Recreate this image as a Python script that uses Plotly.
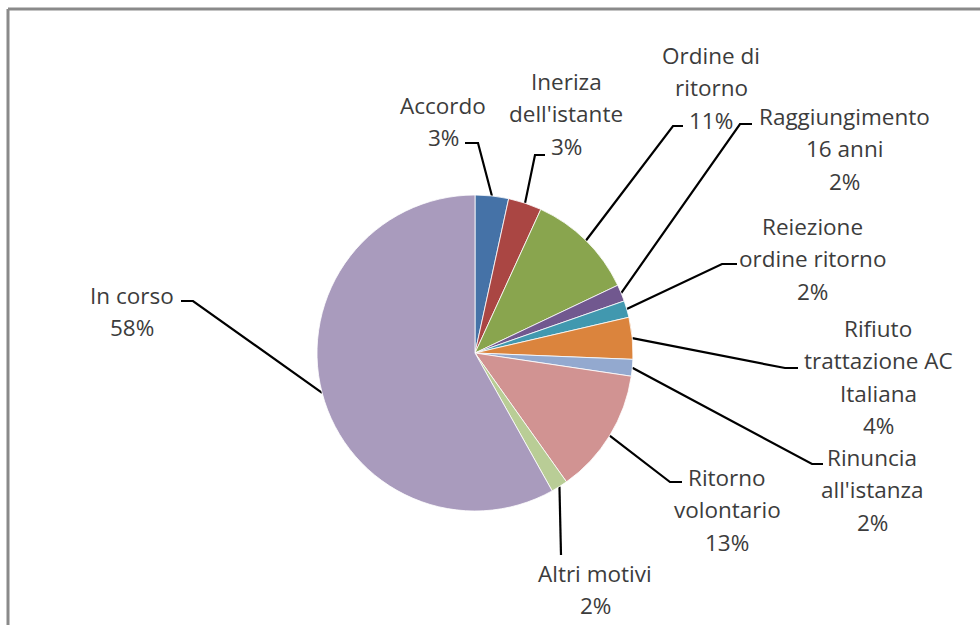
import math
import plotly.graph_objects as go

# Case outcomes (counts); percentages are derived from these
categories = [
    "Accordo",
    "Ineriza\ndell'istante",
    "Ordine di\nritorno",
    "Raggiungimento\n16 anni",
    "Reiezione\nordine ritorno",
    "Rifiuto\ntrattazione AC\nItaliana",
    "Rinuncia\nall'istanza",
    "Ritorno\nvolontario",
    "Altri motivi",
    "In corso",
]
cases = [4, 4, 13, 2, 2, 5, 2, 15, 2, 68]

slice_colors = ["#4572A7", "#AA4643", "#89A54E", "#71588F", "#4198AF",
                "#DB843D", "#93A9CF", "#D19392", "#B9CD96", "#A99BBD"]

# Canvas and pie geometry (pixels)
W, H = 980, 625
CX, CY, R = 475, 353, 158
LINE_H = 32.5

# Per-slice label placement: text centre x, first text line y,
# leader elbow x, elbow y, leader end x
label_layout = [
    (443, 105, 478, 143, 465),
    (566, 81, 535, 155, 545),
    (711, 55, 673, 126, 683),
    (844, 116, 740, 124, 752),
    (812, 226, 722, 264, 737),
    (878, 328, 785, 368, 798),
    (872, 457, 812, 464, 823),
    (727, 477, 670, 482, 682),
    (595, 573, 561, 555, 561),
    (132, 295, 193, 301, 181),
]

FONT = dict(family="Open Sans, Arial, sans-serif", size=22.5, color="#3c3c3c")

total = sum(cases)

fig = go.Figure()

fig.add_trace(go.Pie(
    labels=[c.replace("\n", " ") for c in categories],
    values=cases,
    sort=False,
    direction="clockwise",
    rotation=0,
    marker=dict(colors=slice_colors, line=dict(color="white", width=0.8)),
    textinfo="none",
    textposition="none",
    hoverinfo="label+percent",
    showlegend=False,
    domain=dict(x=[(CX - R) / W, (CX + R) / W],
                y=[1 - (CY + R) / H, 1 - (CY - R) / H]),
))

annotations = []
cum = 0
for name, v, (tx, ty, ex, ey, endx) in zip(categories, cases, label_layout):
    mid = (cum + v / 2) / total * 2 * math.pi
    cum += v
    # point on the pie rim at the slice's mid angle (clockwise from 12 o'clock)
    px = CX + R * math.sin(mid)
    py = CY - R * math.cos(mid)
    fig.add_trace(go.Scatter(
        x=[px, ex, endx], y=[py, ey, ey],
        mode="lines", line=dict(color="black", width=2.2),
        hoverinfo="skip", showlegend=False,
        xaxis="x", yaxis="y",
    ))
    pct = f"{round(100 * v / total)}%"
    lines = name.split("\n") + [pct]
    for i, ln in enumerate(lines):
        annotations.append(dict(
            x=tx, y=ty + i * LINE_H, xref="x", yref="y",
            text=ln, showarrow=False, font=FONT,
            xanchor="center", yanchor="middle",
        ))

# Chart frame (top and left edges visible)
shapes = [
    dict(type="line", xref="x", yref="y", x0=8, y0=9, x1=W, y1=9,
         line=dict(color="#8a8a8a", width=3)),
    dict(type="line", xref="x", yref="y", x0=8, y0=9, x1=8, y1=H,
         line=dict(color="#8a8a8a", width=3)),
]

fig.update_layout(
    width=W, height=H,
    margin=dict(l=0, r=0, t=0, b=0),
    paper_bgcolor="white", plot_bgcolor="rgba(0,0,0,0)",
    xaxis=dict(range=[0, W], visible=False, fixedrange=True),
    yaxis=dict(range=[H, 0], visible=False, fixedrange=True),
    annotations=annotations,
    shapes=shapes,
)

fig.write_html("out.html")
